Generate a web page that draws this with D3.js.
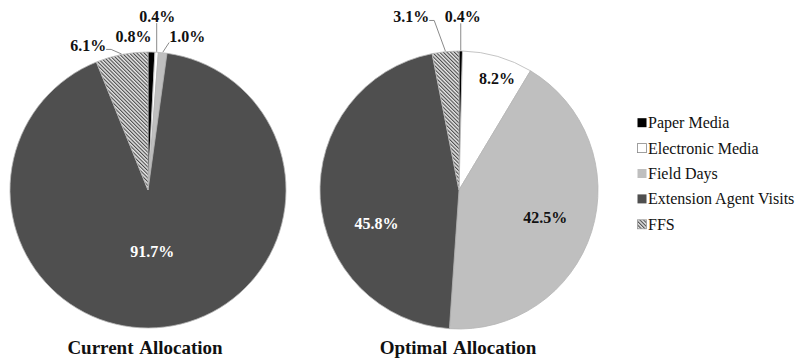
<!DOCTYPE html>
<html>
<head>
<meta charset="utf-8">
<script src="https://cdn.jsdelivr.net/npm/d3@7"></script>
<style>
  html, body { margin: 0; padding: 0; background: #fff; }
  svg { display: block; }
</style>
</head>
<body>
<svg id="chart" width="798" height="359"></svg>
<script>
// ---- data ----
const categories = ["Paper Media", "Electronic Media", "Field Days", "Extension Agent Visits", "FFS"];
const currentValues = [0.8, 0.4, 1.0, 91.7, 6.1];
const optimalValues = [0.4, 8.2, 42.5, 45.8, 3.1];
const chartTitles = ["Current Allocation", "Optimal Allocation"];

// ---- styling / layout (not data) ----
const FONT = "'Liberation Serif', 'Times New Roman', Times, 'Nimbus Roman', 'DejaVu Serif', serif";
const fills = ["#000000", "#ffffff", "#bfbfbf", "#4f4f4f", "url(#hatch)"];
const charts = [
  { values: currentValues, title: chartTitles[0], cx: 148, cy: 190, r: 138, titleX: 145,
    labels: [
      { k: 1.117, deg: -5.4, color: "#111", leader: false },
      { k: 1.262, deg: 3.0, color: "#111", leader: true },
      { k: 1.148, deg: 14.3, color: "#111", leader: true },
      { k: 0.45, deg: 176, color: "#fff", leader: false },
      { k: 1.134, deg: -22.5, color: "#111", leader: true }
    ] },
  { values: optimalValues, title: chartTitles[1], cx: 459, cy: 190, r: 139, titleX: 458,
    labels: [
      { k: 1.25, deg: 1.2, color: "#111", leader: true },
      { k: 0.85, deg: 18.7, color: "#111", leader: false },
      { k: 0.65, deg: 107.4, color: "#111", leader: false },
      { k: 0.64, deg: 248.1, color: "#fff", leader: false },
      { k: 1.295, deg: -15.4, color: "#111", leader: true }
    ] }
];

const svg = d3.select("#chart").attr("font-family", FONT).style("font-family", FONT);
const defs = svg.append("defs");
const pat = defs.append("pattern")
  .attr("id", "hatch")
  .attr("patternUnits", "userSpaceOnUse")
  .attr("width", 2.6).attr("height", 2.6)
  .attr("patternTransform", "rotate(-45)");
pat.append("rect").attr("width", 2.6).attr("height", 2.6).attr("fill", "#e8e8e8");
pat.append("rect").attr("width", 1.1).attr("height", 2.6).attr("fill", "#4a4a4a");

const pie = d3.pie().sort(null).value(d => d);

charts.forEach(ch => {
  const g = svg.append("g").attr("transform", `translate(${ch.cx},${ch.cy})`);
  const arcs = pie(ch.values);
  const arc = d3.arc().innerRadius(0).outerRadius(ch.r);

  g.selectAll("path.slice")
    .data(arcs)
    .join("path")
    .attr("class", "slice")
    .attr("d", arc)
    .attr("fill", (d, i) => fills[i])
    .attr("stroke", "#b5b5b5")
    .attr("stroke-width", 0.8);

  arcs.forEach((a, i) => {
    const spec = ch.labels[i];
    const ang = spec.deg * Math.PI / 180;
    const lx = Math.sin(ang) * ch.r * spec.k;
    const ly = -Math.cos(ang) * ch.r * spec.k;
    const t = g.append("text")
      .attr("x", lx).attr("y", ly)
      .attr("text-anchor", "middle")
      .attr("dominant-baseline", "central")
      .attr("font-family", FONT)
      .attr("font-size", 16)
      .attr("font-weight", "bold")
      .attr("fill", spec.color)
      .text(ch.values[i].toFixed(1) + "%");
    if (spec.leader) {
      const mid = (a.startAngle + a.endAngle) / 2;
      const ax = Math.sin(mid) * (ch.r + 0.5);
      const ay = -Math.cos(mid) * (ch.r + 0.5);
      const bb = t.node().getBBox();
      const ex = Math.max(bb.x + 1, Math.min(ax, bb.x + bb.width - 1));
      const ey = ly + 6;
      let pts;
      if (ax > bb.x + bb.width - 1) {
        pts = [[bb.x + bb.width, ey - 2], [bb.x + bb.width + 5, ey - 2], [ax, ay]];
      } else if (ax < bb.x + 1) {
        pts = [[bb.x, ey], [ax, ay]];
      } else {
        pts = [[ex, ey + 1], [ax, ay]];
      }
      g.append("path")
        .attr("d", d3.line()(pts))
        .attr("fill", "none")
        .attr("stroke", "#8a8a8a")
        .attr("stroke-width", 1);
    }
  });

  svg.append("text")
    .attr("x", ch.titleX).attr("y", 354)
    .attr("text-anchor", "middle")
    .attr("font-family", FONT)
    .attr("font-size", 19)
    .attr("font-weight", "bold")
    .attr("fill", "#111")
    .attr("word-spacing", 2)
    .text(ch.title);
});

// ---- legend ----
const ly = d3.scaleBand().domain(categories).range([110, 237]).paddingInner(0);
const leg = svg.append("g");
categories.forEach((c, i) => {
  const y = ly(c) + ly.bandwidth() / 2;
  leg.append("rect")
    .attr("x", 637.5).attr("y", y - 4.5)
    .attr("width", 9).attr("height", 9)
    .attr("fill", fills[i])
    .attr("stroke", i === 1 ? "#888" : (i === 4 ? "#999" : "none"))
    .attr("stroke-width", 0.8);
  leg.append("text")
    .attr("x", 648).attr("y", y)
    .attr("dominant-baseline", "central")
    .attr("font-family", FONT)
    .attr("font-size", 16)
    .attr("fill", "#111")
    .text(c);
});
</script>
</body>
</html>
